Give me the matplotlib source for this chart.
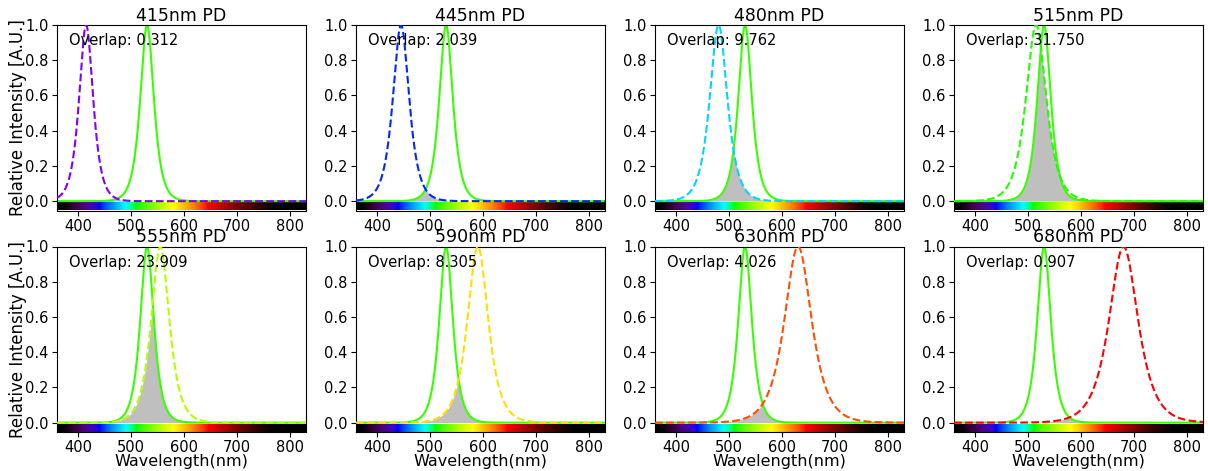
import numpy as np
import matplotlib
matplotlib.use("Agg")
import matplotlib.pyplot as plt

# ---- data ----
pd_peaks = [415, 445, 480, 515, 555, 590, 630, 680]          # nm
pd_fwhm = [31, 36, 39, 45, 40, 46, 60, 64]                    # nm
overlaps = [0.312, 2.039, 9.762, 31.750, 23.909, 8.305, 4.026, 0.907]
led_peak = 530
led_fwhm = 30
titles = [f"{p}nm PD" for p in pd_peaks]
xticks = [400, 500, 600, 700, 800]
yticks = [0.0, 0.2, 0.4, 0.6, 0.8, 1.0]
wl_min, wl_max = 360, 830


def sech_profile(wl, peak, fwhm):
    w = fwhm / (2 * np.arccosh(2.0))
    return 1.0 / np.cosh((wl - peak) / w)


def wl_rgb(wl, gamma=0.8, atten=True):
    wl = float(wl)
    if wl < 440:
        r = ((440 - wl) / 60) ** gamma if wl >= 380 else 1.0
        g = 0.0
        b = 1.0
        if atten:
            a = np.clip((wl - 368) / 72, 0, 1) ** 1.3
            r, b = r * a, b * a
    elif wl <= 490:
        r, g, b = 0.0, ((wl - 440) / 50) ** gamma, 1.0
    elif wl <= 510:
        r, g, b = 0.0, 1.0, ((510 - wl) / 20) ** gamma
    elif wl <= 580:
        r, g, b = ((wl - 510) / 70) ** gamma, 1.0, 0.0
    elif wl <= 645:
        r, g, b = 1.0, ((645 - wl) / 65) ** gamma, 0.0
    else:
        r, g, b = 1.0, 0.0, 0.0
        if atten:
            r = np.clip((775 - wl) / 130, 0, 1) ** 1.3
    return (float(r), float(g), float(b))


wl = np.linspace(wl_min, wl_max, 2000)
led = sech_profile(wl, led_peak, led_fwhm)
led_color = (0.22, 1.0, 0.0)

bar_wl = np.linspace(wl_min, wl_max, 940)
bar = np.array([[wl_rgb(w) for w in bar_wl]])

fig = plt.figure(figsize=(12.08, 4.71), dpi=100)
W, H = 1208, 471
lefts = [57, 356, 655, 954]
tops = [25, 246.5]
aw, ah = 249, 185.5

ylo = -0.053
for i, (peak, fw, ov, title) in enumerate(zip(pd_peaks, pd_fwhm, overlaps, titles)):
    r, c = divmod(i, 4)
    ax = fig.add_axes([lefts[c] / W, 1 - (tops[r] + ah) / H, aw / W, ah / H])
    pdc = sech_profile(wl, peak, fw)
    ax.imshow(bar, extent=[wl_min, wl_max, ylo, -0.011], aspect='auto',
              interpolation='bilinear', zorder=0)
    ax.fill_between(wl, 0, np.minimum(led, pdc), color='gray', alpha=0.5,
                    linewidth=0, zorder=1)
    ax.plot(wl, led, color=led_color, lw=1.5, zorder=2)
    ax.plot(wl, pdc, color=wl_rgb(peak, atten=False), lw=1.5, ls='--', zorder=3)
    ax.set_xlim(wl_min, wl_max)
    ax.set_ylim(ylo, 1.0)
    ax.set_xticks(xticks)
    ax.set_yticks(yticks)
    ax.tick_params(labelsize=10.5, pad=2.5)
    ax.set_title(title, fontsize=12.5, pad=2)
    ax.text(0.05, 0.955, f"Overlap: {ov:.3f}", transform=ax.transAxes,
            fontsize=10.5, va='top', ha='left')
    if c == 0:
        ax.set_ylabel("Relative Intensity [A.U.]", fontsize=12, labelpad=-1)
    if r == 1:
        ax.set_xlabel("Wavelength(nm)", fontsize=11.5, labelpad=-1)

fig.savefig("out.png", dpi=100)
